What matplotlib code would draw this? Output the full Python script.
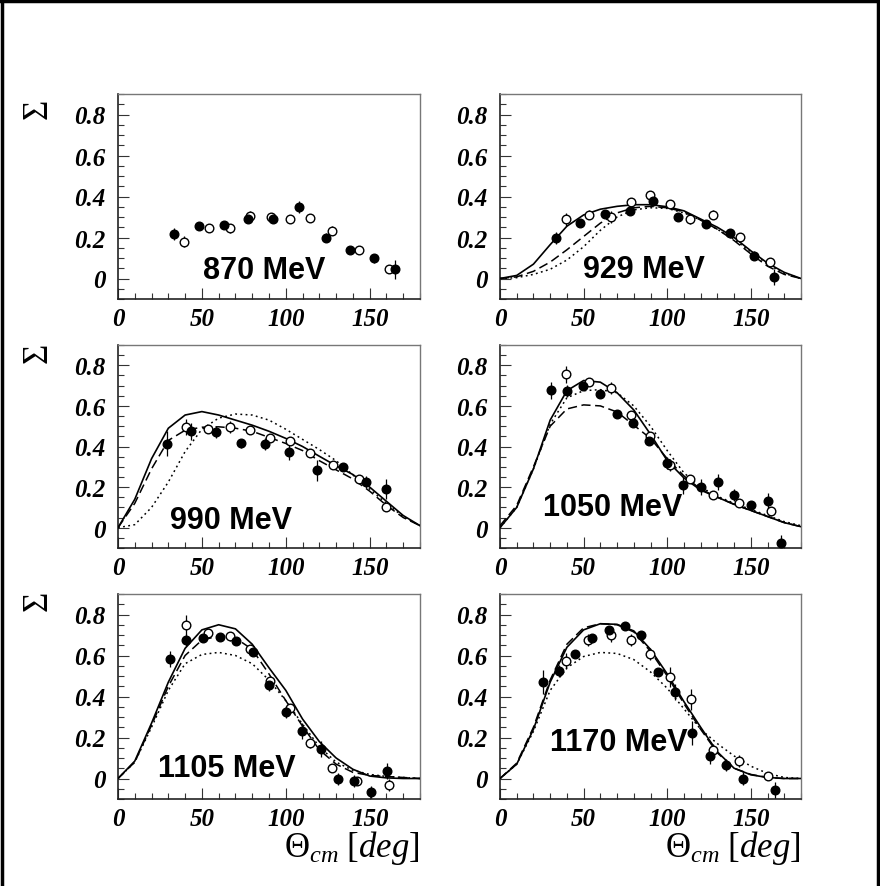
import matplotlib
matplotlib.use("Agg")
import matplotlib.pyplot as plt
from matplotlib.ticker import MultipleLocator, FixedLocator, FixedFormatter
from matplotlib.lines import Line2D

plt.rcParams['mathtext.fontset'] = 'custom'
plt.rcParams['mathtext.rm'] = 'Liberation Serif'
plt.rcParams['mathtext.it'] = 'Liberation Serif:italic'

# model curves are tabulated on a 10 deg grid
theta_grid = [0, 10, 20, 30, 40, 50, 60, 70, 80, 90, 100, 110, 120, 130, 140, 150, 160, 170, 180]

# ---- 870 MeV ----
e870_full_th = [33.5, 48.5, 63.3, 77.7, 92.2, 108.0, 123.8, 138.3, 152.7, 165.0]
e870_full_s = [0.218, 0.255, 0.26, 0.29, 0.29, 0.35, 0.20, 0.138, 0.098, 0.044]
e870_full_err = [0.03, 0.02, 0.02, 0.02, 0.02, 0.03, 0.02, 0.015, 0.02, 0.045]
e870_open_th = [39.1, 54.0, 66.9, 78.9, 90.9, 102.4, 114.4, 127.8, 143.7, 161.7]
e870_open_s = [0.18, 0.247, 0.244, 0.307, 0.30, 0.288, 0.295, 0.234, 0.138, 0.047]
e870_open_err = [0.025, 0.02, 0.02, 0.02, 0.02, 0.015, 0.015, 0.02, 0.015, 0.02]

# ---- 929 MeV ----
e929_full_th = [33.3, 47.9, 62.5, 77.8, 91.4, 106.2, 123.4, 137.7, 152.0, 164.0]
e929_full_s = [0.198, 0.272, 0.316, 0.329, 0.377, 0.30, 0.264, 0.22, 0.112, 0.008]
e929_full_err = [0.03, 0.02, 0.02, 0.02, 0.02, 0.02, 0.02, 0.02, 0.02, 0.04]
e929_open_th = [39.3, 53.3, 66.5, 78.2, 89.8, 101.8, 113.8, 127.4, 143.3, 161.2]
e929_open_s = [0.288, 0.312, 0.30, 0.374, 0.407, 0.361, 0.288, 0.312, 0.203, 0.08]
e929_open_err = [0.03, 0.02, 0.03, 0.02, 0.02, 0.02, 0.02, 0.02, 0.02, 0.02]
e929_solid = [0, 0.015, 0.07, 0.165, 0.255, 0.31, 0.338, 0.352, 0.36, 0.36, 0.35, 0.33, 0.29, 0.25, 0.2, 0.135, 0.075, 0.03, 0.0]
e929_dash = [0, 0.008, 0.035, 0.08, 0.14, 0.205, 0.27, 0.32, 0.345, 0.352, 0.345, 0.325, 0.285, 0.24, 0.185, 0.12, 0.06, 0.02, 0.0]
e929_dot = [0, 0.004, 0.02, 0.045, 0.09, 0.155, 0.235, 0.3, 0.335, 0.345, 0.342, 0.32, 0.285, 0.24, 0.19, 0.13, 0.07, 0.025, 0.0]

# ---- 990 MeV ----
e990_full_th = [29.2, 43.5, 58.5, 73.3, 87.8, 102.0, 118.4, 134.1, 147.7, 160.0]
e990_full_s = [0.414, 0.474, 0.471, 0.415, 0.414, 0.373, 0.282, 0.30, 0.227, 0.19]
e990_full_err = [0.06, 0.04, 0.03, 0.02, 0.03, 0.04, 0.05, 0.02, 0.03, 0.05]
e990_open_th = [40.3, 53.9, 67.0, 78.9, 90.4, 102.4, 114.4, 128.0, 143.7, 160.0]
e990_open_s = [0.496, 0.488, 0.496, 0.483, 0.442, 0.425, 0.369, 0.307, 0.241, 0.1]
e990_open_err = [0.04, 0.02, 0.03, 0.02, 0.02, 0.02, 0.02, 0.02, 0.02, 0.02]
e990_solid = [0, 0.14, 0.34, 0.49, 0.555, 0.572, 0.555, 0.53, 0.505, 0.475, 0.44, 0.4, 0.352, 0.305, 0.262, 0.2, 0.13, 0.06, 0.01]
e990_dash = [0, 0.12, 0.29, 0.43, 0.48, 0.495, 0.497, 0.49, 0.475, 0.445, 0.415, 0.38, 0.33, 0.285, 0.24, 0.18, 0.11, 0.05, 0.01]
e990_dot = [0, 0.015, 0.1, 0.225, 0.375, 0.485, 0.54, 0.56, 0.555, 0.53, 0.485, 0.435, 0.385, 0.33, 0.26, 0.19, 0.12, 0.055, 0.01]

# ---- 1050 MeV ----
e1050_full_th = [30.5, 39.9, 49.9, 59.9, 69.9, 79.8, 89.4, 99.8, 109.4, 120.4, 130.1, 140.0, 150.0, 160.0, 168.0]
e1050_full_s = [0.676, 0.675, 0.698, 0.657, 0.562, 0.517, 0.427, 0.319, 0.208, 0.199, 0.225, 0.16, 0.11, 0.13, -0.075]
e1050_full_err = [0.04, 0.03, 0.02, 0.02, 0.02, 0.02, 0.02, 0.03, 0.04, 0.04, 0.04, 0.03, 0.02, 0.04, 0.04]
e1050_open_th = [39.3, 53.5, 66.3, 78.4, 89.8, 101.4, 113.8, 127.4, 143.0, 162.0]
e1050_open_s = [0.755, 0.717, 0.69, 0.557, 0.452, 0.307, 0.238, 0.159, 0.12, 0.08]
e1050_open_err = [0.04, 0.02, 0.03, 0.02, 0.02, 0.03, 0.02, 0.02, 0.02, 0.02]
e1050_solid = [0, 0.1, 0.29, 0.53, 0.675, 0.725, 0.717, 0.665, 0.58, 0.46, 0.33, 0.245, 0.185, 0.15, 0.115, 0.085, 0.055, 0.025, 0.005]
e1050_dash = [0.01, 0.11, 0.3, 0.5, 0.585, 0.605, 0.6, 0.57, 0.505, 0.44, 0.34, 0.255, 0.19, 0.15, 0.115, 0.085, 0.055, 0.025, 0.005]
e1050_dot = [0, 0.1, 0.29, 0.51, 0.64, 0.675, 0.68, 0.665, 0.6, 0.5, 0.38, 0.27, 0.2, 0.155, 0.12, 0.09, 0.06, 0.03, 0.01]

# ---- 1105 MeV ----
e1105_full_th = [31.0, 40.5, 50.5, 60.5, 70.5, 80.5, 89.8, 100.2, 109.8, 121.2, 131.2, 140.7, 150.5, 160.3]
e1105_full_s = [0.583, 0.676, 0.685, 0.69, 0.671, 0.616, 0.458, 0.324, 0.233, 0.143, -0.002, -0.013, -0.065, 0.036]
e1105_full_err = [0.04, 0.03, 0.02, 0.02, 0.02, 0.02, 0.03, 0.03, 0.04, 0.04, 0.03, 0.03, 0.03, 0.04]
e1105_open_th = [40.5, 53.9, 66.9, 78.9, 90.5, 102.4, 114.4, 127.8, 142.7, 161.5]
e1105_open_s = [0.75, 0.709, 0.693, 0.632, 0.474, 0.343, 0.171, 0.053, -0.013, -0.03]
e1105_open_err = [0.05, 0.02, 0.02, 0.02, 0.02, 0.02, 0.02, 0.02, 0.02, 0.03]
e1105_solid = [0, 0.085, 0.27, 0.47, 0.635, 0.725, 0.75, 0.73, 0.655, 0.54, 0.43, 0.29, 0.18, 0.1, 0.045, 0.012, 0.003, 0.0, 0.0]
e1105_dash = [0, 0.08, 0.26, 0.45, 0.6, 0.675, 0.695, 0.685, 0.63, 0.51, 0.38, 0.255, 0.14, 0.07, 0.03, 0.015, 0.01, 0.005, 0.0]
e1105_dot = [0, 0.08, 0.25, 0.43, 0.56, 0.605, 0.615, 0.6, 0.56, 0.48, 0.38, 0.265, 0.155, 0.08, 0.04, 0.02, 0.01, 0.005, 0.0]

# ---- 1170 MeV ----
e1170_full_th = [25.9, 35.3, 45.1, 54.9, 64.9, 74.9, 84.4, 94.4, 104.8, 114.8, 125.4, 135.3, 145.3, 164.7]
e1170_full_s = [0.471, 0.524, 0.606, 0.685, 0.726, 0.742, 0.698, 0.52, 0.422, 0.222, 0.11, 0.067, 0.0, -0.057]
e1170_full_err = [0.06, 0.03, 0.02, 0.02, 0.02, 0.02, 0.02, 0.02, 0.04, 0.06, 0.04, 0.03, 0.03, 0.04]
e1170_open_th = [39.3, 52.9, 66.5, 78.2, 89.8, 101.4, 114.2, 127.1, 143.1, 160.3]
e1170_open_s = [0.573, 0.675, 0.698, 0.675, 0.606, 0.496, 0.386, 0.14, 0.085, 0.011]
e1170_open_err = [0.04, 0.03, 0.03, 0.03, 0.03, 0.05, 0.05, 0.03, 0.03, 0.02]
e1170_solid = [0, 0.07, 0.24, 0.47, 0.64, 0.725, 0.755, 0.752, 0.72, 0.63, 0.51, 0.375, 0.25, 0.13, 0.05, 0.018, 0.005, 0.0, 0.0]
e1170_dash = [0, 0.075, 0.25, 0.48, 0.655, 0.735, 0.755, 0.75, 0.715, 0.62, 0.5, 0.365, 0.24, 0.125, 0.05, 0.02, 0.005, 0.0, 0.0]
e1170_dot = [0, 0.07, 0.23, 0.43, 0.54, 0.595, 0.615, 0.61, 0.58, 0.52, 0.44, 0.34, 0.24, 0.17, 0.11, 0.06, 0.025, 0.005, 0.0]

W, H = 880, 887
fig = plt.figure(figsize=(W / 100, H / 100), dpi=100)

tick_font = dict(family='Liberation Serif', weight='bold', style='italic', size=18)


def make_axes(left, top, right, bottom):
    ax = fig.add_axes([left / W, 1 - bottom / H, (right - left) / W, (bottom - top) / H])
    ax.set_xlim(0, 180)
    ax.set_ylim(-0.1, 0.9)
    ax.xaxis.set_major_locator(FixedLocator([0, 50, 100, 150]))
    ax.xaxis.set_minor_locator(MultipleLocator(10))
    ax.yaxis.set_major_locator(FixedLocator([0, 0.2, 0.4, 0.6, 0.8]))
    ax.yaxis.set_major_formatter(FixedFormatter(['0', '0.2', '0.4', '0.6', '0.8']))
    ax.yaxis.set_minor_locator(MultipleLocator(0.05))
    ax.tick_params(which='both', direction='in', top=False, right=False, width=0.8, color='#333333')
    ax.tick_params(which='major', length=8)
    ax.tick_params(which='minor', length=4.5)
    ax.tick_params(axis='x', pad=6)
    ax.tick_params(axis='y', pad=9)
    for lab in ax.get_xticklabels() + ax.get_yticklabels():
        lab.set(**tick_font)
    for side in ['left', 'bottom']:
        ax.spines[side].set_linewidth(1.2)
        ax.spines[side].set_color('#222222')
    for side in ['top', 'right']:
        ax.spines[side].set_linewidth(1.0)
        ax.spines[side].set_color('#777777')
    return ax


def draw_points(ax, th, s, err, filled):
    face = 'black' if filled else 'white'
    ax.errorbar(th, s, yerr=err, fmt='o', ms=6.2, mfc=face, mec='black', mew=1.0,
                ecolor='black', elinewidth=0.9, capsize=0, zorder=5)


def draw_models(ax, solid, dash, dot):
    ax.plot(theta_grid, solid, color='black', lw=1.2, zorder=3)
    ax.plot(theta_grid, dash, color='black', lw=1.1, dashes=(6, 3), zorder=3)
    ax.plot(theta_grid, dot, color='black', lw=1.1, dashes=(1.2, 2.2), zorder=3)


label_font = dict(family='Liberation Sans', weight='bold', size=22, ha='left', va='center')

cols = [(118, 420), (500, 801)]
rows = [(95, 300), (346, 549), (595, 800)]

# 870 MeV
ax = make_axes(cols[0][0], rows[0][0], cols[0][1], rows[0][1])
draw_points(ax, e870_open_th, e870_open_s, e870_open_err, False)
draw_points(ax, e870_full_th, e870_full_s, e870_full_err, True)
ax.text(0.28, 0.141, '870 MeV', transform=ax.transAxes, **label_font)

# 929 MeV
ax = make_axes(cols[1][0], rows[0][0], cols[1][1], rows[0][1])
draw_models(ax, e929_solid, e929_dash, e929_dot)
draw_points(ax, e929_open_th, e929_open_s, e929_open_err, False)
draw_points(ax, e929_full_th, e929_full_s, e929_full_err, True)
ax.text(0.276, 0.146, '929 MeV', transform=ax.transAxes, **label_font)

# 990 MeV
ax = make_axes(cols[0][0], rows[1][0], cols[0][1], rows[1][1])
draw_models(ax, e990_solid, e990_dash, e990_dot)
draw_points(ax, e990_open_th, e990_open_s, e990_open_err, False)
draw_points(ax, e990_full_th, e990_full_s, e990_full_err, True)
ax.text(0.171, 0.138, '990 MeV', transform=ax.transAxes, **label_font)

# 1050 MeV
ax = make_axes(cols[1][0], rows[1][0], cols[1][1], rows[1][1])
draw_models(ax, e1050_solid, e1050_dash, e1050_dot)
draw_points(ax, e1050_open_th, e1050_open_s, e1050_open_err, False)
draw_points(ax, e1050_full_th, e1050_full_s, e1050_full_err, True)
ax.text(0.143, 0.202, '1050 MeV', transform=ax.transAxes, **label_font)

# 1105 MeV
ax = make_axes(cols[0][0], rows[2][0], cols[0][1], rows[2][1])
draw_models(ax, e1105_solid, e1105_dash, e1105_dot)
draw_points(ax, e1105_open_th, e1105_open_s, e1105_open_err, False)
draw_points(ax, e1105_full_th, e1105_full_s, e1105_full_err, True)
ax.text(0.132, 0.151, '1105 MeV', transform=ax.transAxes, **label_font)

# 1170 MeV
ax = make_axes(cols[1][0], rows[2][0], cols[1][1], rows[2][1])
draw_models(ax, e1170_solid, e1170_dash, e1170_dot)
draw_points(ax, e1170_open_th, e1170_open_s, e1170_open_err, False)
draw_points(ax, e1170_full_th, e1170_full_s, e1170_full_err, True)
ax.text(0.166, 0.278, '1170 MeV', transform=ax.transAxes, **label_font)

# Sigma titles at the top of the left y axes
for yc in [111, 355, 603]:
    fig.text(38 / W, 1 - yc / H, r'$\Sigma$', rotation=90, ha='center', va='center', size=25)

# x titles under the bottom row
for xr in [420, 801]:
    fig.text(xr / W, 1 - 848 / H, r'$\Theta_{cm}\ [deg]$', ha='right', va='center', size=25)

# outer frame
for xs, ys in [([0.002, 0.002], [0, 1]), ([0, 1], [0.998, 0.998]), ([0.998, 0.998], [0, 1])]:
    fig.add_artist(Line2D(xs, ys, transform=fig.transFigure, color='black', lw=2.5))

fig.savefig('out.png', dpi=100)
